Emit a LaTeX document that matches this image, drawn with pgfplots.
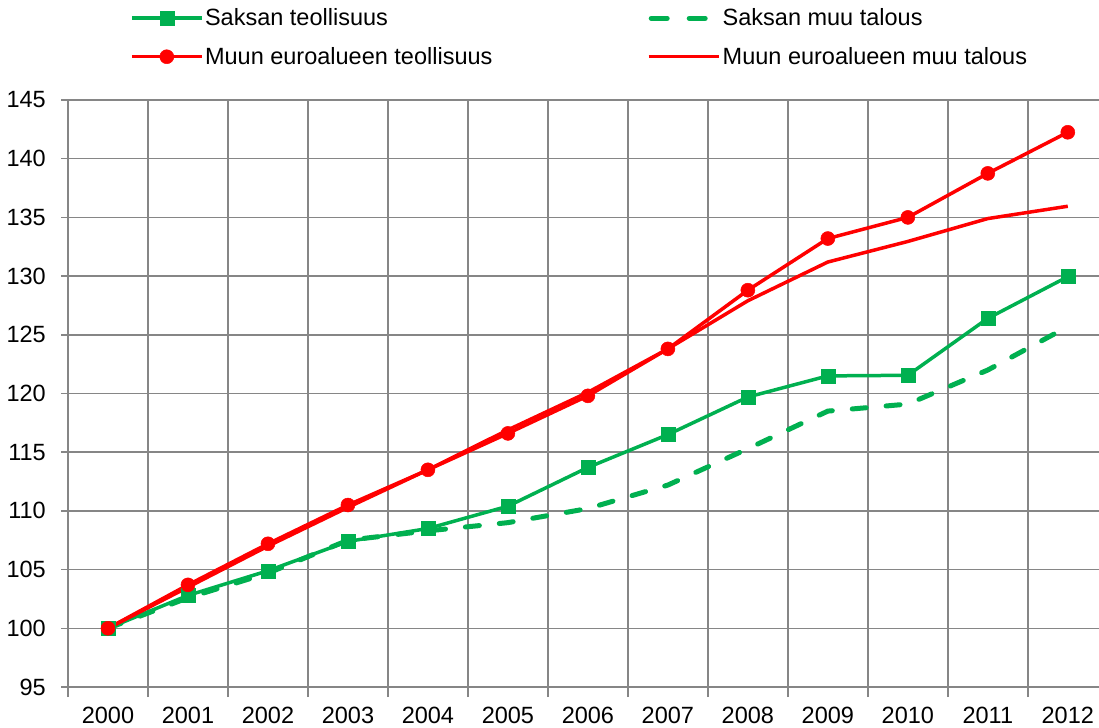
\documentclass[border=0pt]{standalone}
\usepackage{pgfplots}
\pgfplotsset{compat=1.18}
\usepackage{fontspec}
\setmainfont{Liberation Sans}
\definecolor{grn}{RGB}{0,176,80}
\definecolor{rd}{RGB}{255,0,0}
\definecolor{grd}{RGB}{134,134,134}
\pgfplotsset{dashleg/.style={legend image code/.code={\draw[##1, dash pattern=on 16bp off 22bp] (2.5bp,0bp) -- (70bp,0bp);}}}
\begin{document}
\begin{tikzpicture}[font=\fontsize{23.5bp}{27bp}\selectfont]
\useasboundingbox (-68bp,-41bp) rectangle (1031bp,687bp);
\begin{axis}[name=ax, scale only axis, width=1031bp, height=587bp,
  xmin=-0.5, xmax=12.39, ymin=95, ymax=145,
  axis lines=left, axis line style={-, draw=grd, line width=1.5bp},
  xtick={0,1,2,3,4,5,6,7,8,9,10,11,12},
  xticklabels={2000,2001,2002,2003,2004,2005,2006,2007,2008,2009,2010,2011,2012},
  minor xtick={-0.5,0.5,1.5,2.5,3.5,4.5,5.5,6.5,7.5,8.5,9.5,10.5,11.5},
  ytick={95,100,...,145},
  tick align=outside,
  major tick length=7bp, minor tick length=10bp,
  tick style={draw=grd, line width=1.5bp},
  major x tick style={draw=none},
  xminorgrids=true, ymajorgrids=true, xmajorgrids=false,
  grid style={draw=grd, line width=1.5bp},
  minor grid style={draw=grd, line width=1.5bp},
  /pgf/number format/assume math mode=true,
  yticklabel style={inner sep=0pt, xshift=-15bp},
  xticklabel style={inner sep=0pt, yshift=-13bp},
  legend columns=2,
  legend cell align=left,
  legend style={at={(0.060,1.158)}, anchor=north west, draw=none, fill=none,
    inner sep=0pt, /tikz/row sep=17bp,
    nodes={inner sep=1.5bp},
    /tikz/every even column/.append style={column sep=153bp}},
  legend image code/.code={\draw[mark repeat=2,mark phase=2,#1] plot coordinates {(0bp,0bp) (35bp,0bp) (70bp,0bp)};},
]
\addplot[grn, line width=3.5bp, mark=square*, mark size=7bp, mark options={solid, fill=grn, draw=grn, line width=0.5bp}]
coordinates {(0,100) (1,102.8) (2,104.9) (3,107.4) (4,108.5) (5,110.4) (6,113.7) (7,116.5) (8,119.7) (9,121.5) (10,121.55) (11,126.4) (12,129.95)};
\addlegendentry{Saksan teollisuus}
\addplot[grn, line width=5bp, line cap=round, dash pattern=on 14bp off 20bp, dashleg]
coordinates {(0,100) (1,102.6) (2,104.7) (3,107.5) (4,108.3) (5,109.0) (6,110.2) (7,112.2) (8,115.3) (9,118.5) (10,119.1) (11,122.0) (12,125.7)};
\addlegendentry{Saksan muu talous}
\addplot[rd, line width=3.5bp, mark=*, mark size=7bp, mark options={solid, fill=rd, draw=rd, line width=0.5bp}]
coordinates {(0,100) (1,103.7) (2,107.2) (3,110.5) (4,113.5) (5,116.6) (6,119.8) (7,123.8) (8,128.8) (9,133.2) (10,135.0) (11,138.75) (12,142.25)};
\addlegendentry{Muun euroalueen teollisuus}
\addplot[rd, line width=3.5bp]
coordinates {(0,100) (1,103.5) (2,107.0) (3,110.3) (4,113.5) (5,116.9) (6,120.1) (7,123.8) (8,127.9) (9,131.2) (10,132.95) (11,134.9) (12,135.95)};
\addlegendentry{Muun euroalueen muu talous}
\end{axis}
\end{tikzpicture}
\end{document}
